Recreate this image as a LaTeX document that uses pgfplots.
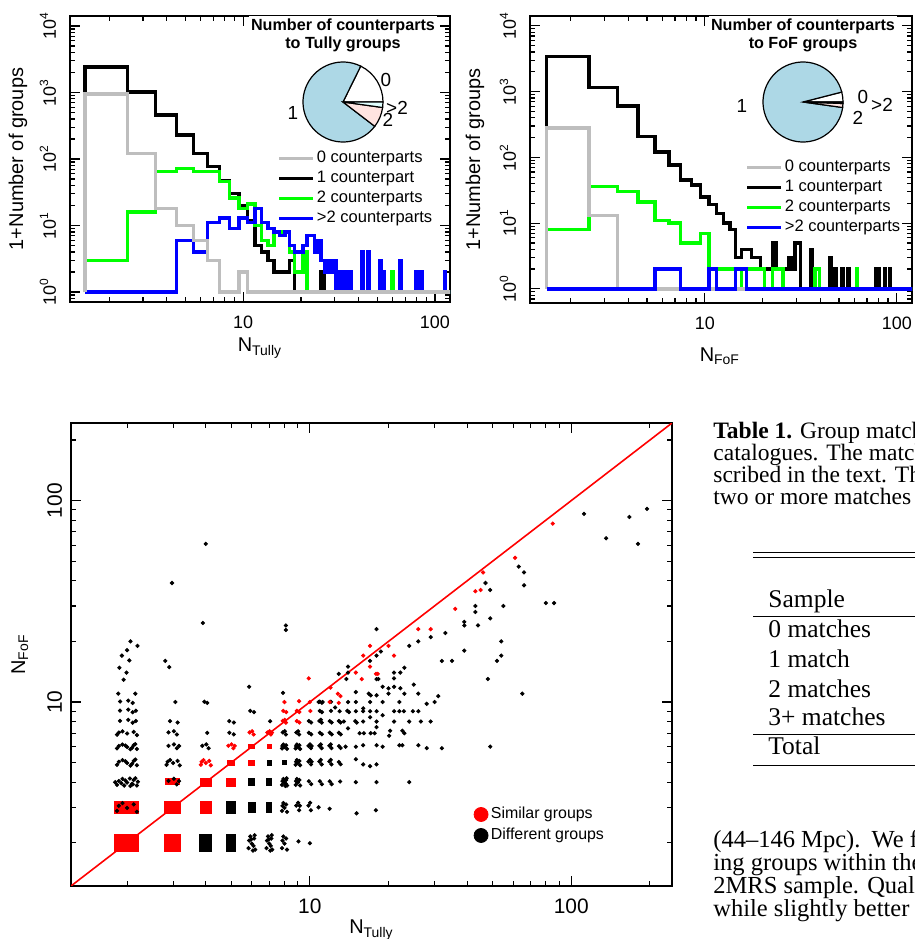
\documentclass[border=0pt]{standalone}
\usepackage{fontspec}
\setmainfont{Liberation Sans}
\newfontfamily\tnr{Liberation Serif}
\usepackage{pgfplots}
\pgfplotsset{compat=1.18}
\definecolor{hgray}{RGB}{190,190,190}
\definecolor{hgreen}{RGB}{0,255,0}
\definecolor{hblue}{RGB}{0,0,255}
\definecolor{pieblue}{RGB}{173,216,230}
\definecolor{piepink}{RGB}{255,228,225}
\definecolor{piecyan}{RGB}{224,255,255}
\begin{document}
\begin{tikzpicture}
\useasboundingbox (0,0) rectangle (457.5bp,-469.5bp);
% ---------------- left histogram ----------------
\begin{axis}[anchor=north west, at={(35bp,-8bp)}, scale only axis, width=190bp, height=143bp,
  xmode=log, ymode=log, xmin=1.25, xmax=119.8, ymin=0.708, ymax=14100,
  axis line style={line width=0.9bp}, tick align=inside,
  major tick length=5bp, minor tick length=2.5bp, tick style={black, line width=0.6bp},
  xtick={10,100}, xticklabels={10,100},
  ytick={1,10,100,1000,10000},
  yticklabels={10\textsuperscript{0},10\textsuperscript{1},10\textsuperscript{2},10\textsuperscript{3},10\textsuperscript{4}},
  minor xtick={2,3,4,5,6,7,8,9,20,30,40,50,60,70,80,90},
  minor ytick={0.8,0.9,2,3,4,5,6,7,8,9,20,30,40,50,60,70,80,90,200,300,400,500,600,700,800,900,2000,3000,4000,5000,6000,7000,8000,9000},
  tick label style={font=\fontsize{9}{10}\selectfont},
  xticklabel style={yshift=-3.5bp},
  yticklabel style={xshift=-3.5bp, rotate=90, anchor=south},
  xlabel={N\textsubscript{Tully}}, ylabel={1+Number of groups},
  xlabel style={at={(axis description cs:0.5,-0.161)}, anchor=center, font=\fontsize{10}{12}\selectfont},
  ylabel style={at={(axis description cs:-0.137,0.5)}, anchor=center, font=\fontsize{10}{12}\selectfont},
  legend cell align=left,
  legend style={draw=none, fill=white, inner sep=0bp, anchor=north west, at={(0.545,0.5385)},
     font=\fontsize{8.3}{9}\selectfont, row sep=0bp,
     nodes={inner sep=1bp, text height=6.2bp, text depth=1.8bp}}]
\addlegendimage{hgray, line width=1.7bp}\addlegendentry{0 counterparts}
\addlegendimage{black, line width=1.7bp}\addlegendentry{1 counterpart}
\addlegendimage{hgreen, line width=1.7bp}\addlegendentry{2 counterparts}
\addlegendimage{hblue, line width=1.7bp}\addlegendentry{>2 counterparts}
\addplot[const plot, line width=1.7bp, forget plot, black] coordinates {(1.5,1) (1.5,2400) (2.5,1020) (3.5,460) (4.5,230) (5.5,122) (6.5,77) (7.5,47) (8.5,30) (9.5,20) (10.5,12) (11.5,5) (12.5,4) (13.5,3) (14.5,2) (17.5,3) (18.5,1) (25.5,2) (26.5,1) (125,1)};
\addplot[const plot, line width=1.7bp, forget plot, hgreen] coordinates {(1.5,1) (1.5,3) (2.5,16) (3.5,65) (4.5,72) (5.5,65) (7.5,46) (8.5,26) (9.5,18) (10.5,21) (11.5,10) (12.5,6) (13.5,5) (14.5,8) (17.5,4) (18.5,2) (20.5,4) (21.5,1) (33.5,2) (34.5,1) (59.5,2) (60.5,1) (125,1)};
\addplot[const plot, line width=1.7bp, forget plot, hblue] coordinates {(1.5,1) (4.5,6) (5.5,4) (6.5,11) (7.5,13) (8.5,9) (9.5,13) (10.5,11) (11.5,18) (12.5,11) (13.5,9) (14.5,8) (15.5,7) (16.5,8) (17.5,5) (18.5,4) (20.5,5) (21.5,7) (23.5,4) (24.5,6) (25.5,3) (26.5,2) (27.5,3) (28.5,2) (29.5,3) (30.5,1) (31.5,2) (32.5,1) (33.5,2) (34.5,1) (35.5,2) (36.5,1) (41.5,4) (42.5,1) (44.5,4) (45.5,1) (51.5,3) (52.5,1) (53.5,2) (54.5,1) (65.5,3) (66.5,1) (79.5,2) (80.5,1) (84.5,2) (85.5,1) (112.5,2) (113.5,1) (125,1)};
\addplot[const plot, line width=1.7bp, forget plot, hgray] coordinates {(1.5,1) (1.5,950) (2.5,120) (3.5,18) (4.5,10) (5.5,6) (6.5,3) (7.5,1) (9.5,2) (10.5,1) (125,1)};
\end{axis}
% ---------------- right histogram ----------------
\begin{axis}[anchor=north west, at={(265bp,-8bp)}, scale only axis, width=191bp, height=143.5bp,
  xmode=log, ymode=log, xmin=1.23, xmax=120, ymin=0.61, ymax=14100,
  axis line style={line width=0.9bp}, tick align=inside,
  major tick length=5bp, minor tick length=2.5bp, tick style={black, line width=0.6bp},
  xtick={10,100}, xticklabels={10,100},
  ytick={1,10,100,1000,10000},
  yticklabels={10\textsuperscript{0},10\textsuperscript{1},10\textsuperscript{2},10\textsuperscript{3},10\textsuperscript{4}},
  minor xtick={2,3,4,5,6,7,8,9,20,30,40,50,60,70,80,90},
  minor ytick={0.7,0.8,0.9,2,3,4,5,6,7,8,9,20,30,40,50,60,70,80,90,200,300,400,500,600,700,800,900,2000,3000,4000,5000,6000,7000,8000,9000},
  tick label style={font=\fontsize{9}{10}\selectfont},
  xticklabel style={yshift=-3.5bp},
  yticklabel style={xshift=-3.5bp, rotate=90, anchor=south},
  xlabel={N\textsubscript{FoF}}, ylabel={1+Number of groups},
  xlabel style={at={(axis description cs:0.497,-0.185)}, anchor=center, font=\fontsize{10}{12}\selectfont},
  ylabel style={at={(axis description cs:-0.144,0.5)}, anchor=center, font=\fontsize{10}{12}\selectfont},
  legend cell align=left,
  legend style={draw=none, fill=white, inner sep=0bp, anchor=north west, at={(0.563,0.509)},
     font=\fontsize{8.3}{9}\selectfont, row sep=0bp,
     nodes={inner sep=1bp, text height=6.2bp, text depth=1.8bp}}]
\addlegendimage{hgray, line width=1.7bp}\addlegendentry{0 counterparts}
\addlegendimage{black, line width=1.7bp}\addlegendentry{1 counterpart}
\addlegendimage{hgreen, line width=1.7bp}\addlegendentry{2 counterparts}
\addlegendimage{hblue, line width=1.7bp}\addlegendentry{>2 counterparts}
\addplot[const plot, line width=1.7bp, forget plot, black] coordinates {(1.5,1) (1.5,3380) (2.5,1150) (3.5,600) (4.5,209) (5.5,120) (6.5,76) (7.5,45) (8.5,38) (9.5,25) (10.5,19) (11.5,14) (12.5,10) (13.5,8) (14.5,3) (15.5,4) (17.5,3) (19.5,2) (22.5,5) (23.5,2) (27.5,3) (28.5,2) (29.5,5) (31.5,1) (35.5,4) (36.5,1) (44.5,3) (45.5,1) (47.5,2) (48.5,1) (51.5,2) (52.5,1) (55.5,2) (56.5,1) (77.5,2) (78.5,1) (80.5,2) (81.5,1) (86.5,2) (87.5,1) (91.5,2) (92.5,1) (125,1)};
\addplot[const plot, line width=1.7bp, forget plot, hgreen] coordinates {(1.5,1) (1.5,8) (2.5,36) (3.5,30) (4.5,21) (5.5,11) (6.5,10) (7.5,5) (9.5,7) (10.5,2) (14.5,1) (15.5,2) (20.5,1) (22.5,2) (25.5,1) (37.5,2) (39.5,1) (61.5,2) (62.5,1) (125,1)};
\addplot[const plot, line width=1.7bp, forget plot, hgray] coordinates {(1.5,1) (1.5,280) (2.5,13) (3.5,1) (125,1)};
\addplot[const plot, line width=1.7bp, forget plot, hblue] coordinates {(1.5,1) (5.5,2) (7.5,1) (10.5,2) (11.5,1) (14.5,2) (16.5,1) (125,1)};
\end{axis}
% ---------------- scatter ----------------
\begin{axis}[anchor=north west, at={(35.5bp,-211.5bp)}, scale only axis, width=300.5bp, height=231.5bp,
  xmode=log, ymode=log, xmin=1.22, xmax=243, ymin=1.22, ymax=243,
  axis line style={line width=0.9bp}, tick align=inside,
  major tick length=5bp, minor tick length=2.5bp, tick style={black, line width=0.6bp},
  xtick={10,100}, xticklabels={10,100},
  ytick={10,100}, yticklabels={10,100},
  minor xtick={2,3,4,5,6,7,8,9,20,30,40,50,60,70,80,90,200},
  minor ytick={2,3,4,5,6,7,8,9,20,30,40,50,60,70,80,90,200},
  tick label style={font=\fontsize{10.5}{12}\selectfont},
  xticklabel style={yshift=-3bp},
  yticklabel style={xshift=-1bp, rotate=90, anchor=south},
  xlabel={N\textsubscript{Tully}}, ylabel={N\textsubscript{FoF}},
  xlabel style={at={(axis description cs:0.5,-0.095)}, anchor=center, font=\fontsize{10}{12}\selectfont},
  ylabel style={at={(axis description cs:-0.085,0.5)}, anchor=center, font=\fontsize{10}{12}\selectfont},
  legend cell align=left,
  legend style={draw=none, fill=none, inner sep=0bp, anchor=north west, at={(0.67,0.178)},
     font=\fontsize{8}{9}\selectfont, row sep=0bp,
     nodes={inner sep=1.4bp, text height=6bp, text depth=1.7bp}}]
\addlegendimage{only marks, mark=*, mark size=3.5bp, red}\addlegendentry{Similar groups}
\addlegendimage{only marks, mark=*, mark size=3.5bp, black}\addlegendentry{Different groups}
% dense clusters (extent of jittered points)
\addplot[fill=black, draw=none, forget plot] coordinates {(3.78,1.79) (4.22,1.79) (4.22,2.21) (3.78,2.21)} -- cycle;
\addplot[fill=black, draw=none, forget plot] coordinates {(4.79,1.79) (5.21,1.79) (5.21,2.21) (4.79,2.21)} -- cycle;
\addplot[fill=black, draw=none, forget plot] coordinates {(4.79,2.79) (5.21,2.79) (5.21,3.21) (4.79,3.21)} -- cycle;
\addplot[fill=black, draw=none, forget plot] coordinates {(5.8,2.8) (6.2,2.8) (6.2,3.2) (5.8,3.2)} -- cycle;
\addplot[fill=black, draw=none, forget plot] coordinates {(6.81,2.81) (7.19,2.81) (7.19,3.19) (6.81,3.19)} -- cycle;
\addplot[fill=black, draw=none, forget plot] coordinates {(5.81,3.81) (6.19,3.81) (6.19,4.19) (5.81,4.19)} -- cycle;
\addplot[fill=black, draw=none, forget plot] coordinates {(6.82,3.82) (7.18,3.82) (7.18,4.18) (6.82,4.18)} -- cycle;
\addplot[fill=black, draw=none, forget plot] coordinates {(6.83,4.83) (7.17,4.83) (7.17,5.17) (6.83,5.17)} -- cycle;
\addplot[fill=black, draw=none, forget plot] coordinates {(7.84,4.84) (8.16,4.84) (8.16,5.16) (7.84,5.16)} -- cycle;
\addplot[fill=red, draw=none, forget plot] coordinates {(1.78,1.79) (2.22,1.79) (2.22,2.21) (1.78,2.21)} -- cycle;
\addplot[fill=red, draw=none, forget plot] coordinates {(2.78,1.79) (3.22,1.79) (3.22,2.21) (2.78,2.21)} -- cycle;
\addplot[fill=red, draw=none, forget plot] coordinates {(1.78,2.79) (2.22,2.79) (2.22,3.21) (1.78,3.21)} -- cycle;
\addplot[fill=red, draw=none, forget plot] coordinates {(2.78,2.79) (3.22,2.79) (3.22,3.21) (2.78,3.21)} -- cycle;
\addplot[fill=red, draw=none, forget plot] coordinates {(3.79,2.79) (4.21,2.79) (4.21,3.21) (3.79,3.21)} -- cycle;
\addplot[fill=red, draw=none, forget plot] coordinates {(2.8,3.86) (3.2,3.86) (3.2,4.18) (2.8,4.18)} -- cycle;
\addplot[fill=red, draw=none, forget plot] coordinates {(3.79,3.79) (4.21,3.79) (4.21,4.21) (3.79,4.21)} -- cycle;
\addplot[fill=red, draw=none, forget plot] coordinates {(4.8,3.8) (5.2,3.8) (5.2,4.2) (4.8,4.2)} -- cycle;
\addplot[fill=red, draw=none, forget plot] coordinates {(4.81,4.82) (5.19,4.82) (5.19,5.18) (4.81,5.18)} -- cycle;
\addplot[fill=red, draw=none, forget plot] coordinates {(5.82,4.82) (6.18,4.82) (6.18,5.18) (5.82,5.18)} -- cycle;
\addplot[fill=red, draw=none, forget plot] coordinates {(5.82,5.82) (6.18,5.82) (6.18,6.18) (5.82,6.18)} -- cycle;
\addplot[fill=red, draw=none, forget plot] coordinates {(6.83,5.84) (7.17,5.84) (7.17,6.16) (6.83,6.16)} -- cycle;
% black points
\addplot[only marks, mark=*, mark size=0.85bp, black, forget plot] table {
x y
1.83 2.88
1.92 3.15
2.00 2.98
2.12 3.10
2.18 2.85
1.86 3.05
5.83 1.88
5.92 2.15
6.00 1.98
6.12 2.10
6.18 1.85
5.86 2.05
6.06 1.83
6.15 2.18
5.97 2.08
6.09 1.93
6.83 1.88
6.92 2.15
7.00 1.98
7.12 2.10
7.18 1.85
6.86 2.05
7.06 1.83
7.15 2.18
6.97 2.08
7.09 1.93
7.83 1.88
7.92 2.15
8.00 1.98
8.12 2.10
8.18 1.85
7.86 2.05
9.05 2.03
10.0 1.99
7.83 2.88
7.92 3.15
8.00 2.98
8.12 3.10
8.18 2.85
7.86 3.05
8.88 3.06
9.10 2.90
9.02 3.16
9.16 3.05
9.88 3.06
10.10 2.90
10.02 3.16
10.8 3.0
11.9 2.95
15.1 2.8
17.9 2.9
1.83 3.88
1.92 4.15
2.00 3.98
2.12 4.10
2.18 3.85
1.86 4.05
2.06 3.83
2.15 4.18
1.97 4.08
2.09 3.93
1.80 4.00
1.95 3.85
2.05 4.17
2.20 4.02
1.90 3.95
2.10 3.90
2.88 4.06
3.10 3.90
3.02 4.16
3.16 4.05
7.83 3.88
7.92 4.15
8.00 3.98
8.12 4.10
8.18 3.85
7.86 4.05
8.06 3.83
8.15 4.18
7.97 4.08
8.09 3.93
8.83 3.88
8.92 4.15
9.00 3.98
9.12 4.10
9.18 3.85
8.86 4.05
9.92 4.04
10.12 3.91
10.92 4.04
11.12 3.91
11.92 4.04
12.12 3.91
13.05 4.03
15.0 4.0
18.0 4.0
24.0 4.0
1.83 4.88
1.92 5.15
2.00 4.98
2.12 5.10
2.18 4.85
1.86 5.05
2.06 4.83
2.15 5.18
1.97 5.08
2.09 4.93
2.83 4.88
2.92 5.15
3.00 4.98
3.12 5.10
3.18 4.85
2.86 5.05
8.83 4.88
8.92 5.15
9.00 4.98
9.12 5.10
9.18 4.85
8.86 5.05
9.88 5.06
10.10 4.90
10.02 5.16
10.16 5.05
10.88 5.06
11.10 4.90
11.02 5.16
11.88 5.06
12.10 4.90
12.02 5.16
12.92 5.04
13.12 4.91
15.0 5.2
16.0 4.9
17.0 4.8
18.0 4.9
1.83 5.88
1.92 6.15
2.00 5.98
2.12 6.10
2.18 5.85
1.86 6.05
2.06 5.83
2.15 6.18
1.97 6.08
2.09 5.93
2.88 6.06
3.10 5.90
3.02 6.16
3.16 6.05
3.88 6.06
4.10 5.90
4.02 6.16
7.83 5.88
7.92 6.15
8.00 5.98
8.12 6.10
8.18 5.85
7.86 6.05
8.83 5.88
8.92 6.15
9.00 5.98
9.12 6.10
9.18 5.85
8.86 6.05
9.88 6.06
10.10 5.90
10.02 6.16
10.16 6.05
10.88 6.06
11.10 5.90
11.02 6.16
11.88 6.06
12.10 5.90
12.02 6.16
12.92 6.04
13.12 5.91
13.7 6.0
15.0 6.0
16.0 6.1
18.0 6.1
19.0 6.0
22.0 6.1
22.6 6.1
26.0 6.1
28.0 5.9
32.0 5.9
49.0 6.0
1.83 6.88
1.92 7.15
2.00 6.98
2.12 7.10
2.18 6.85
1.86 7.05
2.88 7.06
3.10 6.90
3.02 7.16
4.05 7.03
4.92 7.04
5.12 6.91
7.88 7.06
8.10 6.90
8.02 7.16
8.88 7.06
9.10 6.90
9.02 7.16
9.92 7.04
10.12 6.91
10.92 7.04
11.12 6.91
11.92 7.04
12.12 6.91
12.92 7.04
13.12 6.91
14.0 7.4
15.5 7.0
16.1 7.0
17.1 7.0
17.7 7.0
20.3 7.2
20.1 6.8
22.6 7.2
23.0 7.0
1.88 8.06
2.10 7.90
2.02 8.16
2.16 8.05
2.92 8.04
3.12 7.91
4.92 8.04
5.12 7.91
7.05 8.03
9.92 8.04
10.12 7.91
10.88 8.06
11.10 7.90
11.02 8.16
11.92 8.04
12.12 7.91
12.92 8.04
13.12 7.91
13.5 8.0
14.92 8.04
15.12 7.91
16.0 8.0
17.0 8.4
18.0 8.0
18.0 7.5
21.0 8.0
24.0 8.0
26.6 8.0
29.0 8.0
1.88 9.06
2.10 8.90
2.02 9.16
2.16 9.05
5.92 9.04
6.12 8.91
10.92 9.04
11.12 8.91
12.05 9.03
12.5 9.4
13.0 9.0
13.92 9.04
14.12 8.91
15.0 9.0
16.0 9.0
16.0 9.3
17.0 9.0
18.0 9.0
19.0 8.6
21.0 9.0
22.0 9.0
22.9 9.0
24.8 9.0
26.0 9.0
1.88 10.06
2.10 9.90
2.02 10.16
3.06 10.0
3.95 10.04
4.05 9.91
10.92 10.04
11.12 9.91
12.05 10.03
14.0 10.0
15.0 10.0
17.0 10.0
19.0 10.0
22.0 10.0
28.0 9.8
30.0 10.0
31.0 10.7
2.06 20
2.19 19
2.00 18.1
1.91 17
2.04 16.1
1.87 14.8
1.99 14
1.94 12.9
1.85 11
2.15 11
2.8 16
2.9 14.9
4.0 61
2.97 39
3.9 24.7
8.1 24
8.1 22.8
5.86 11.9
7.9 11.1
18 23
18.7 17.8
18 17
17 16
14 15
14 14
13.8 13
12.9 13.8
18 13
18.3 13
16.8 11
17.1 10.8
18 10.8
19 11.9
20 11.7
21 11.9
22.2 11.7
21 13.1
22.2 14
21 14
23 14.8
25 12.2
20 11
23 11
26 11
15 11.2
10.8 10
11.2 10
24 19
26 20
29 21
33 22
39 25
39 24
44 24
39 18
32 16
35 16
43 30
43 28
49 26
47 39
49 36
55 30
54 20
54 17
52 16
48 13
65 11
63 47
66 44
66 38
80 31
86 31
112 86
167 83
195 91
136 65
180 61
};
% red points
\addplot[only marks, mark=*, mark size=0.85bp, red, forget plot] table {
x y
3.83 4.88
3.92 5.15
4.00 4.98
4.12 5.10
4.18 4.85
3.86 5.05
4.88 6.06
5.10 5.90
5.02 6.16
5.16 6.05
5.88 7.06
6.10 6.90
6.02 7.16
6.88 7.06
7.10 6.90
7.02 7.16
7.16 7.05
7.88 8.06
8.10 7.90
8.02 8.16
8.92 8.04
9.12 7.91
7.92 9.04
8.12 8.91
8.92 9.04
9.12 8.91
10.05 9.03
8.0 10.0
9.1 10.1
10.0 10.0
11.9 10.0
12.9 9.9
9.9 13.1
12 11.8
12.8 11
13.1 10.7
15 14
15.8 13
16 17
17 15
17 19
17.9 13.8
18.2 13.8
20 19
21 17
26 23
29 23
36 29
43 35.5
45 36
46 44
61 52
85 77
};
\addplot[red, line width=0.8bp, forget plot] coordinates {(1.22,1.22) (243,243)};
\end{axis}
% ---------------- pie charts ----------------
\begin{scope}[line width=0.6bp]
\pgfmathsetmacro\La{360*0.177}
\pgfmathsetmacro\Lb{\La+360*0.719}
\pgfmathsetmacro\Lc{\Lb+360*0.082}
\coordinate (PL) at (171.5bp,-51bp);
\filldraw[fill=white] (PL) -- ++(0:20bp) arc[start angle=0,end angle=\La,radius=20bp] -- cycle;
\filldraw[fill=pieblue] (PL) -- ++(\La:20bp) arc[start angle=\La,end angle=\Lb,radius=20bp] -- cycle;
\filldraw[fill=piepink] (PL) -- ++(\Lb:20bp) arc[start angle=\Lb,end angle=\Lc,radius=20bp] -- cycle;
\filldraw[fill=piecyan] (PL) -- ++(\Lc:20bp) arc[start angle=\Lc,end angle=360,radius=20bp] -- cycle;
\pgfmathsetmacro\Ra{360*0.040}
\pgfmathsetmacro\Rb{\Ra+360*0.938}
\pgfmathsetmacro\Rc{\Rb+360*0.016}
\coordinate (PR) at (401.5bp,-51bp);
\filldraw[fill=white] (PR) -- ++(0:20bp) arc[start angle=0,end angle=\Ra,radius=20bp] -- cycle;
\filldraw[fill=pieblue] (PR) -- ++(\Ra:20bp) arc[start angle=\Ra,end angle=\Rb,radius=20bp] -- cycle;
\filldraw[fill=piepink] (PR) -- ++(\Rb:20bp) arc[start angle=\Rb,end angle=\Rc,radius=20bp] -- cycle;
\filldraw[fill=piecyan] (PR) -- ++(\Rc:20bp) arc[start angle=\Rc,end angle=360,radius=20bp] -- cycle;
\end{scope}
\begin{scope}[every node/.style={font=\fontsize{9.5}{10}\selectfont, inner sep=0pt}]
\node at (193bp,-40bp) {0};
\node at (198.5bp,-54bp) {>2};
\node at (194bp,-60bp) {2};
\node at (146.5bp,-56.5bp) {1};
\node at (431.5bp,-48.5bp) {0};
\node at (441bp,-52.5bp) {>2};
\node at (429bp,-59bp) {2};
\node at (371bp,-53bp) {1};
\end{scope}
\node[fill=white, inner sep=1bp, align=center, font=\bfseries\fontsize{8.1}{9}\selectfont] at (171.5bp,-17.5bp) {Number of counterparts\\to Tully groups};
\node[fill=white, inner sep=1bp, align=center, font=\bfseries\fontsize{8.1}{9}\selectfont] at (401.5bp,-17.5bp) {Number of counterparts\\to FoF groups};
% ---------------- table / text column ----------------
\begin{scope}
\clip (350bp,-200bp) rectangle (457.5bp,-469.5bp);
\node[anchor=base west, inner sep=0pt, font=\tnr\fontsize{11.8}{12}\selectfont] at (356.5bp,-219bp) {{\bfseries Table 1.} Group matches between the};
\node[anchor=base west, inner sep=0pt, font=\tnr\fontsize{11.8}{12}\selectfont] at (356.5bp,-230bp) {catalogues. The matching procedure};
\node[anchor=base west, inner sep=0pt, font=\tnr\fontsize{11.8}{12}\selectfont] at (356.5bp,-241bp) {scribed in the text. The last};
\node[anchor=base west, inner sep=0pt, font=\tnr\fontsize{11.8}{12}\selectfont] at (356.5bp,-252bp) {two or more matches};
\node[anchor=base west, inner sep=0pt, font=\tnr\fontsize{12.3}{12}\selectfont] at (356.5bp,-423.5bp) {(44–146 Mpc).\hspace{1.5bp} We find};
\node[anchor=base west, inner sep=0pt, font=\tnr\fontsize{12.3}{12}\selectfont] at (356.5bp,-435bp) {ing groups within the};
\node[anchor=base west, inner sep=0pt, font=\tnr\fontsize{12.3}{12}\selectfont] at (356.5bp,-446.5bp) {2MRS sample. Quality};
\node[anchor=base west, inner sep=0pt, font=\tnr\fontsize{12.3}{12}\selectfont] at (356.5bp,-458bp) {while slightly better};
\node[anchor=base west, inner sep=0pt, font=\tnr\fontsize{12.8}{14}\selectfont] at (384bp,-303.5bp) {Sample};
\node[anchor=base west, inner sep=0pt, font=\tnr\fontsize{12.8}{14}\selectfont] at (384bp,-318.5bp) {0 matches};
\node[anchor=base west, inner sep=0pt, font=\tnr\fontsize{12.8}{14}\selectfont] at (384bp,-333.5bp) {1 match};
\node[anchor=base west, inner sep=0pt, font=\tnr\fontsize{12.8}{14}\selectfont] at (384bp,-348.5bp) {2 matches};
\node[anchor=base west, inner sep=0pt, font=\tnr\fontsize{12.8}{14}\selectfont] at (384bp,-362.5bp) {3+ matches};
\node[anchor=base west, inner sep=0pt, font=\tnr\fontsize{12.8}{14}\selectfont] at (384bp,-377bp) {Total};
\draw[line width=0.5bp] (376.5bp,-276bp) -- (460bp,-276bp);
\draw[line width=0.5bp] (376.5bp,-278.5bp) -- (460bp,-278.5bp);
\draw[line width=0.5bp] (376.5bp,-308bp) -- (460bp,-308bp);
\draw[line width=0.5bp] (376.5bp,-367bp) -- (460bp,-367bp);
\draw[line width=0.5bp] (376.5bp,-382.5bp) -- (460bp,-382.5bp);
\end{scope}
\end{tikzpicture}
\end{document}
